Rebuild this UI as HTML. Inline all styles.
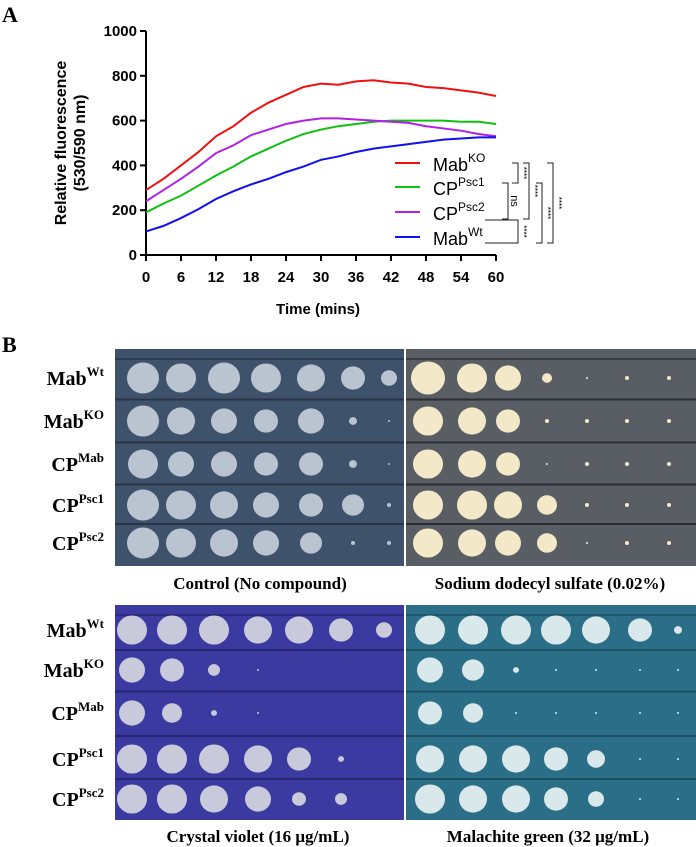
<!DOCTYPE html>
<html><head><meta charset="utf-8"><style>
html,body{margin:0;padding:0;background:#fff;}
svg{display:block;font-family:"Liberation Sans",sans-serif;}
.serif{font-family:"Liberation Serif",serif;font-weight:bold;}
</style></head><body>
<svg id="fig" width="696" height="847" viewBox="0 0 696 847">
<text class="serif" x="2" y="22" font-size="22">A</text>
<g id="chart"></g>
<text x="35" y="0" font-size="16" font-weight="bold" text-anchor="middle" transform="translate(69,143) rotate(-90)"><tspan x="0" dy="-3">Relative fluorescence</tspan><tspan x="0" dy="19">(530/590 nm)</tspan></text>
<text x="318" y="314" font-size="15" font-weight="bold" text-anchor="middle">Time (mins)</text>
<text class="serif" x="2" y="352" font-size="22">B</text>
<g id="plates"></g>
<text class="serif" x="260" y="589" font-size="17" text-anchor="middle">Control (No compound)</text>
<text class="serif" x="550" y="589" font-size="17" text-anchor="middle">Sodium dodecyl sulfate (0.02%)</text>
<text class="serif" x="258" y="842" font-size="17" text-anchor="middle">Crystal violet (16 μg/mL)</text>
<text class="serif" x="548" y="842" font-size="17" text-anchor="middle">Malachite green (32 μg/mL)</text>
</svg>
<script>
const NS="http://www.w3.org/2000/svg";
const times=[0,3,6,9,12,15,18,21,24,27,30,33,36,39,42,45,48,51,54,57,60];
const mabKO=[290,340,400,460,530,575,635,680,715,750,765,760,775,780,770,765,750,745,735,725,710];
const cpPsc1=[190,230,265,310,355,395,440,475,510,540,560,575,585,595,600,600,600,600,595,595,585];
const cpPsc2=[240,290,340,395,455,490,535,560,585,600,610,610,605,600,595,590,575,565,555,540,530];
const mabWt=[105,130,165,205,250,285,315,340,370,395,425,440,460,475,485,495,505,515,520,525,525];
const yTicks=[0,200,400,600,800,1000];
const xTicks=[0,6,12,18,24,30,36,42,48,54,60];
const X0=146,X1=496,Y0=255,Y1=31;
function sx(t){return X0+(t/60)*(X1-X0);}
function sy(v){return Y0-(v/1000)*(Y0-Y1);}
function mk(tag,attrs,parent){const e=document.createElementNS(NS,tag);for(const k in attrs)e.setAttribute(k,attrs[k]);parent.appendChild(e);return e;}
const chart=document.getElementById('chart');
let ax=mk('line',{x1:X0,y1:Y1,x2:X0,y2:Y0,stroke:'#000','stroke-width':2},chart);


ax=mk('line',{x1:X0,y1:Y0,x2:X1,y2:Y0,stroke:'#000','stroke-width':2},chart);


yTicks.forEach(v=>{mk('line',{x1:X0-6,y1:sy(v),x2:X0,y2:sy(v),stroke:'#000','stroke-width':2},chart);
 const t=mk('text',{x:X0-9,y:sy(v)+5,'font-size':15,'font-weight':'bold','text-anchor':'end'},chart);t.textContent=v;
 
 });
xTicks.forEach(v=>{mk('line',{x1:sx(v),y1:Y0,x2:sx(v),y2:Y0+6,stroke:'#000','stroke-width':2},chart);
 const t=mk('text',{x:sx(v),y:Y0+27,'font-size':15,'font-weight':'bold','text-anchor':'middle'},chart);t.textContent=v;
 
 });
const series=[[mabKO,'#f01010','mab-ko-line'],[cpPsc1,'#10c010','cp-psc1-line'],[cpPsc2,'#b020e8','cp-psc2-line'],[mabWt,'#1010f0','mab-wt-line']];
series.forEach(s=>{const p=mk('polyline',{points:times.map((t,i)=>sx(t)+','+sy(s[0][i])).join(' '),fill:'none',stroke:s[1],'stroke-width':2},chart);
 
 });
const legNames=[['Mab','KO'],['CP','Psc1'],['CP','Psc2'],['Mab','Wt']];
const legY=[163,187,212,237];
legNames.forEach((n,i)=>{mk('line',{x1:395,y1:legY[i],x2:420,y2:legY[i],stroke:series[i][1],'stroke-width':2},chart);
 const t=mk('text',{x:433,y:legY[i]+8,'font-size':18},chart);
 t.innerHTML=n[0]+'<tspan dy="-9" font-size="12">'+n[1]+'</tspan>';
 
 });
function br(x,ya,yb,lab,left){const g=mk('g',{},chart);
 
 
 mk('path',{d:`M${left||x-6},${ya}H${x}V${yb}H${left||x-6}`,fill:'none',stroke:'#222','stroke-width':1},g);
 const t=mk('text',{x:0,y:0,'font-size':lab=='ns'?11:8,'text-anchor':'middle',transform:`translate(${x+3},${(ya+yb)/2}) rotate(90)`},g);t.textContent=lab;}
br(518,163,183,'****');br(508,183,219,'ns');br(518,220,243,'****',485);br(529,163,219,'****');br(542,183,243,'****');br(553,163,243,'****');
const plates=document.getElementById('plates');
const plateDefs=[
 {x:115,y:349,w:289,h:217,bg:'#3f526c',spot:'#b9c4d0',line:'#2a3445',cols:[143,181,224,266,311,353,389],rows:[378,421,464,505,543],name:'control-plate',
  r:[[16,15,16,15,14,12,8],[16,14,13,12,13,4,1],[15,13,13,12,12,4,1],[16,15,14,13,12,11,2],[16,15,14,13,11,2,2]]},
 {x:406,y:349,w:290,h:217,bg:'#595d64',spot:'#f3e8c8',line:'#2c2e33',cols:[428,472,508,547,587,627,669],rows:[378,421,464,505,543],name:'sds-plate',
  r:[[17,15,13,5,1,2,2],[15,14,12,2,2,2,2],[15,14,12,1,2,2,2],[15,15,14,10,2,2,2],[15,14,13,10,1,2,2]]},
 {x:115,y:605,w:289,h:215,bg:'#3a3aa0',spot:'#c9c9dc',line:'#262670',cols:[132,172,214,258,299,341,384],rows:[630,670,713,759,799],name:'crystal-violet-plate',
  r:[[15,15,15,14,14,12,8],[13,12,6,1,0,0,0],[13,10,3,1,0,0,0],[15,15,15,14,12,3,0],[15,15,14,13,7,6,0]]},
 {x:406,y:605,w:290,h:215,bg:'#2b6e88',spot:'#d9e8ea',line:'#1d4f63',cols:[430,473,516,556,596,640,678],rows:[630,670,713,759,799],name:'malachite-green-plate',
  r:[[15,15,15,15,14,12,4],[13,11,3,1,1,1,1],[12,10,1,1,1,1,1],[14,14,14,12,9,1,1],[15,14,14,12,8,1,1]]}];
const rowLabels=[['Mab','Wt'],['Mab','KO'],['CP','Mab'],['CP','Psc1'],['CP','Psc2']];
plateDefs.forEach((p,pi)=>{const g=mk('g',{},plates);
 
 
 mk('rect',{x:p.x,y:p.y,width:p.w,height:p.h,fill:p.bg},g);
 for(let i=0;i<p.rows.length-1;i++){const ly=(p.rows[i]+p.rows[i+1])/2;mk('line',{x1:p.x,y1:ly,x2:p.x+p.w,y2:ly,stroke:p.line,'stroke-width':2},g);}
 const ty=p.y+10;mk('line',{x1:p.x,y1:ty,x2:p.x+p.w,y2:ty,stroke:p.line,'stroke-width':1.5},g);
 p.r.forEach((row,ri)=>row.forEach((r,ci)=>{if(r>0)mk('ellipse',{cx:p.cols[ci],cy:p.rows[ri],rx:r,ry:r*0.97,fill:p.spot},g);}));
 if(pi%2==0){p.rows.forEach((ry,ri)=>{const t=mk('text',{x:104,y:ry+7,'font-size':20,'text-anchor':'end',class:'serif'},plates);
  t.innerHTML=rowLabels[ri][0]+'<tspan dy="-9" font-size="13">'+rowLabels[ri][1]+'</tspan>';
  
  });}
});
</script>
</body></html>
